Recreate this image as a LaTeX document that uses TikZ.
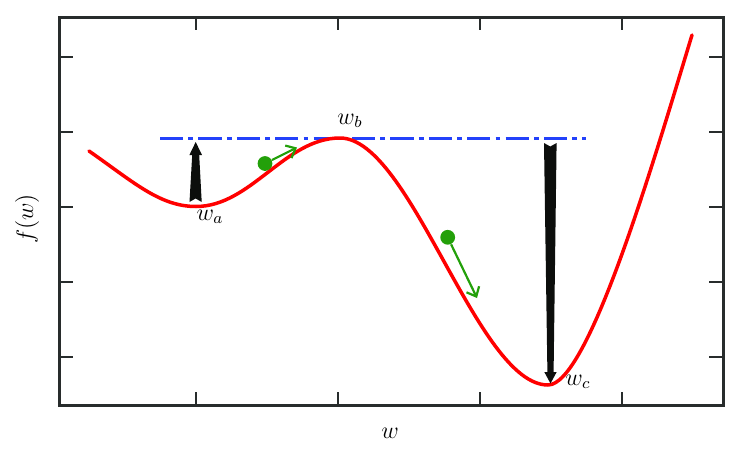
\documentclass[tikz,border=0pt]{standalone}
\usetikzlibrary{arrows.meta}
\definecolor{curvered}{RGB}{255,0,0}
\definecolor{lineblue}{RGB}{35,65,250}
\definecolor{ballgreen}{RGB}{35,160,10}
\definecolor{axisgray}{RGB}{40,44,44}
\definecolor{arrowblack}{RGB}{12,14,12}
\begin{document}
\begin{tikzpicture}[x=0.5pt,y=-0.5pt,
  axisbox/.style={draw=axisgray,line width=1.5pt},
  tickline/.style={draw=axisgray,line width=1.15pt},
  fcurve/.style={draw=curvered,line width=1.75pt,line join=round,line cap=round},
  levelline/.style={draw=lineblue,line width=1.75pt,dash pattern=on 11.6pt off 2.6pt on 2.4pt off 2.6pt},
  bigarrow/.style={fill=arrowblack},
  ball/.style={circle,fill=ballgreen,inner sep=0pt,minimum size=7.4pt},
  greenarrow/.style={draw=ballgreen,line width=1.1pt,-{Straight Barb[length=4pt,width=7pt]}},
  lbl/.style={font=\fontsize{12}{14}\selectfont,inner sep=0pt}
]
\useasboundingbox (0,0) rectangle (740,461);
% axes box
\draw[axisbox] (59,17) rectangle (723,405);
\foreach \x in {196,338,480,622} {
  \draw[tickline] (\x,17) -- (\x,30);
  \draw[tickline] (\x,405) -- (\x,392);
}
\foreach \y in {56.7,131.7,206.7,281.7,356.7} {
  \draw[tickline] (59,\y) -- (73,\y);
  \draw[tickline] (723,\y) -- (709,\y);
}
% level line
\draw[levelline] (160,138.3) -- (586,138.3);
% curve
\draw[fcurve] (89,151) .. controls (134,182.5) and (160,206.5) .. (196,206.5)
  .. controls (251,206.5) and (285,138) .. (340,138)
  .. controls (411,138) and (477,385) .. (548,385)
  .. controls (588,385) and (652,167) .. (692,35);
% black arrows
\fill[bigarrow] (189.5,202) -- (195.6,198.5) -- (201.7,202) -- (199.2,155)
  -- (202,155) -- (195.7,142) -- (189.4,155) -- (192.2,155) -- cycle;
\fill[bigarrow] (544,143) -- (550.3,146.5) -- (556.6,143) -- (553.6,372)
  -- (556.7,372) -- (550.5,383.5) -- (544.3,372) -- (547.4,372) -- cycle;
% green balls and arrows
\node[ball] (b1) at (265,163.5) {};
\coordinate (t1) at (297,147.5);
\draw[greenarrow] (b1) -- (t1);
\node[ball] (b2) at (447.7,237.3) {};
\coordinate (t2) at (477,298);
\draw[greenarrow] (b2) -- (t2);
% labels
\node[lbl] (la) at (210,217) {$w_a$};
\node[lbl] (lb) at (350,121) {$w_b$};
\node[lbl] (lc) at (578,382) {$w_c$};
\node[lbl] (xlab) at (390,433) {$w$};
\node[lbl,rotate=90] (ylab) at (27,219) {$f(w)$};
\end{tikzpicture}
\end{document}
